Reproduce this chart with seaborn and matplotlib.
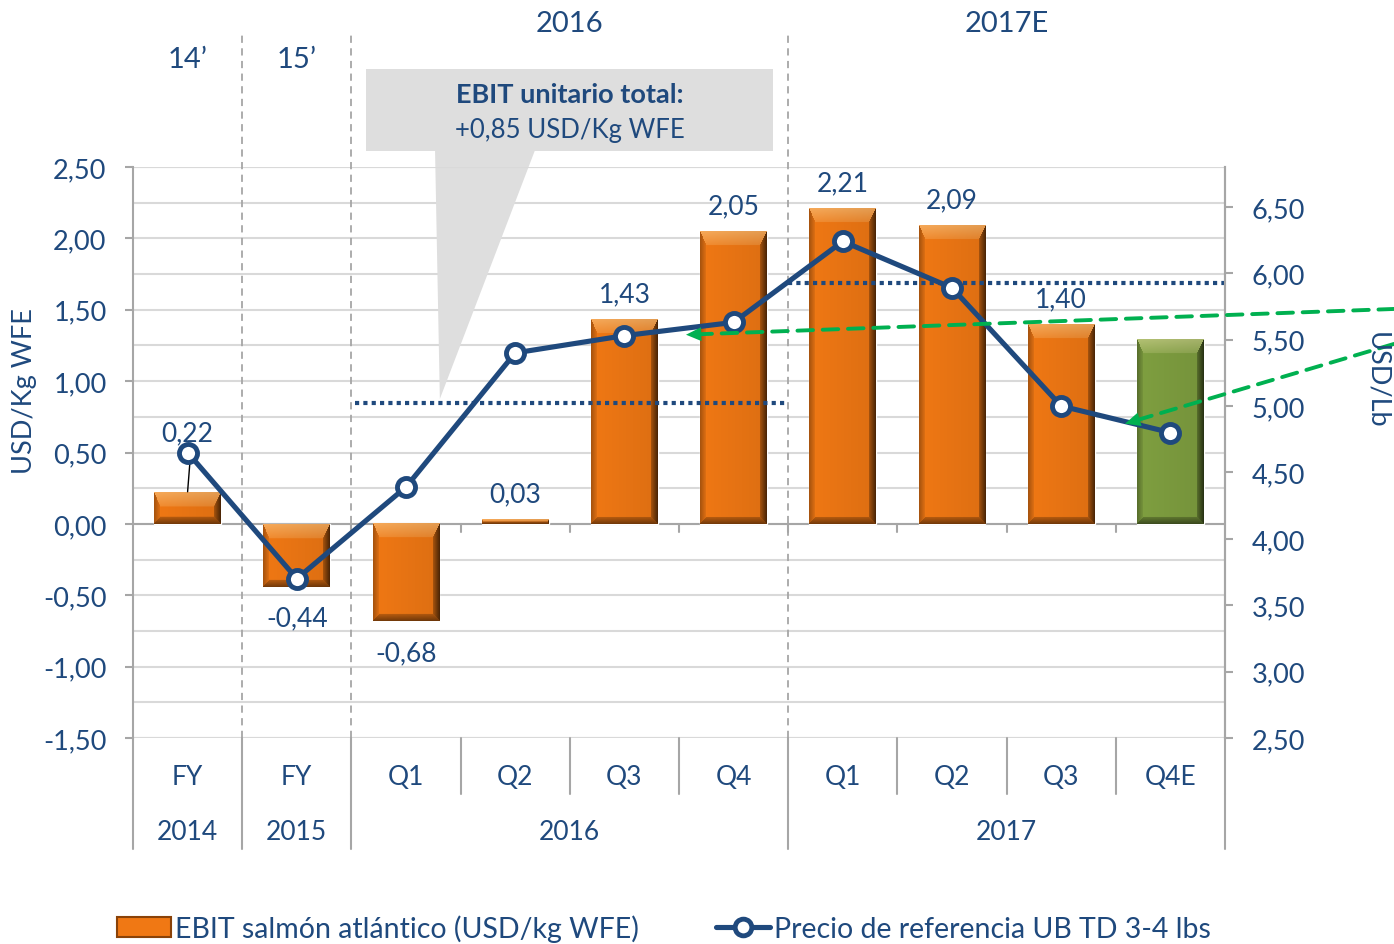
import numpy as np
import pandas as pd
import matplotlib
matplotlib.use('Agg')
import matplotlib.pyplot as plt
import seaborn as sns
from matplotlib.ticker import FuncFormatter, MultipleLocator
from matplotlib.patches import Polygon, Rectangle, Patch
from matplotlib.lines import Line2D
from matplotlib.colors import to_rgb

# data
periods = ['FY', 'FY', 'Q1', 'Q2', 'Q3', 'Q4', 'Q1', 'Q2', 'Q3', 'Q4E']
years = ['2014', '2015', '2016', '2016', '2016', '2016', '2017', '2017', '2017', '2017']
ebit = [0.22, -0.44, -0.68, 0.03, 1.43, 2.05, 2.21, 2.09, 1.40, 1.29]
kind = ['real'] * 9 + ['est']
price = [4.65, 3.70, 4.39, 5.40, 5.53, 5.63, 6.24, 5.89, 5.00, 4.80]
avg_2016 = 0.85
avg_2017 = 1.69
year_groups = [('2014', 0, 0), ('2015', 1, 1), ('2016', 2, 5), ('2017', 6, 9)]
headers = [('14’', 0, 0), ('15’', 1, 1), ('2016', 2, 5), ('2017E', 6, 9)]
callout = ['EBIT unitario total:', '+0,85 USD/Kg WFE']

NAVY = '#1F497D'
ORANGE = '#F07814'
GREEN = '#7F9F40'
GRID = '#D9D9D9'
AXGRAY = '#A6A6A6'

sns.set_style('white')
plt.rcParams['font.family'] = ['Lato', 'DejaVu Sans']

fig = plt.figure(figsize=(13.94, 9.45), dpi=100)
ax = fig.add_axes([133 / 1394, 1 - 739 / 945, (1225 - 133) / 1394, (739 - 168) / 945])

df = pd.DataFrame({'cat': [f'{p} {y}' for p, y in zip(periods, years)], 'ebit': ebit, 'kind': kind})
sns.barplot(data=df, x='cat', y='ebit', hue='kind', palette={'real': ORANGE, 'est': GREEN},
            width=0.61, dodge=False, legend=False, saturation=1, ax=ax, zorder=3)


def bevel(color, H, W):
    # beveled look like the office chart: light top, dark right/bottom
    base = np.array(to_rgb(color))
    widths = np.array([14, 7, 6, 7], dtype=float)
    widths = np.minimum(widths, max(H / 2.2, 1))
    i = np.arange(H)[:, None] * np.ones((1, W))
    j = np.ones((H, 1)) * np.arange(W)[None, :]
    d = np.stack([i, H - 1 - i, j, W - 1 - j]) / widths[:, None, None]
    side = d.argmin(0)
    t = np.clip(d.min(0), 0, 1)[..., None]
    img = np.tile(base, (H, W, 1))
    white = np.array([1.0, 0.95, 0.75])
    top = base * (1 - (0.4 * (1 - t) + 0.15 * t)) + white * (0.4 * (1 - t) + 0.15 * t)
    bottom = base * (0.5 * (1 - t) + 0.8 * t)
    left = base * (0.7 * (1 - t) + 0.95 * t)
    right = base * (0.35 * (1 - t) + 0.78 * t)
    near = d.min(0) < 1
    for s, arr in enumerate([top, bottom, left, right]):
        m = near & (side == s)
        img[m] = arr[m]
    shade = 1 - 0.08 * (np.arange(W) / W)
    img = img * shade[None, :, None]
    return np.clip(img, 0, 1)


px_per_unit = 571 / 4.0
for p, v in zip(ax.patches, ebit):
    x0, w = p.get_x(), p.get_width()
    H = max(int(abs(v) * px_per_unit), 3)
    img = bevel(p.get_facecolor(), H, 67)
    ax.imshow(img, extent=(x0, x0 + w, min(0, v), max(0, v)), aspect='auto', zorder=3.5, interpolation='bilinear')

ax.set_xlim(-0.5, 9.5)
ax.set_ylim(-1.5, 2.5)
ax.yaxis.set_major_locator(MultipleLocator(0.5))
ax.yaxis.set_minor_locator(MultipleLocator(0.25))
ax.grid(axis='y', which='both', color=GRID, lw=1.5, zorder=0)
ax.set_axisbelow(True)
fmt = FuncFormatter(lambda v, _: f'{v:.2f}'.replace('.', ','))
ax.yaxis.set_major_formatter(fmt)
ax.tick_params(axis='y', which='major', labelsize=19.5, labelcolor=NAVY, length=6, color=AXGRAY, width=1.5, pad=13, left=True)
ax.tick_params(axis='y', which='minor', length=0)
ax.set_xticks([])
ax.set_xlabel('')
ax.set_ylabel('')
for s in ['top', 'bottom']:
    ax.spines[s].set_visible(False)
for s in ['left', 'right']:
    ax.spines[s].set_color(AXGRAY)
    ax.spines[s].set_linewidth(1.5)
ax.axhline(0, color=AXGRAY, lw=1.5, zorder=2)
ax.axhline(-1.5, color=GRID, lw=1.5, zorder=2)
ax.axhline(2.5, color=GRID, lw=1.5, zorder=2)

# ticks on the zero line at category boundaries
for b in np.arange(0.5, 9, 1.0):
    ax.plot([b, b], [0, -0.06], color=AXGRAY, lw=1.5, zorder=2)

# value labels
for i, v in enumerate(ebit):
    if kind[i] == 'est':
        continue
    txt = f'{v:.2f}'.replace('.', ',')
    if i == 0:
        ax.text(i, v + 0.42, txt, ha='center', va='center', fontsize=19, color=NAVY, zorder=6)
        ax.plot([0.02, 0.0], [0.42, v + 0.005], color='black', lw=1, zorder=6)
    elif v >= 0:
        ax.text(i, v + 0.18, txt, ha='center', va='center', fontsize=19, color=NAVY, zorder=6)
    else:
        ax.text(i, v - 0.22, txt, ha='center', va='center', fontsize=19, color=NAVY, zorder=6)

# average dotted lines
ax.plot([1.53, 5.5], [avg_2016, avg_2016], color=NAVY, lw=3, ls=(0, (1, 1)), zorder=4)
ax.plot([5.5, 9.5], [avg_2017, avg_2017], color=NAVY, lw=3, ls=(0, (1, 1)), zorder=4)

# vertical dashed separators through the plot
tr = ax.get_xaxis_transform()
for b in [0.5, 1.5, 5.5]:
    ax.plot([b, b], [0, 1.233], transform=tr, color=AXGRAY, lw=1.3, ls=(0, (4, 3)), clip_on=False, zorder=2)

# category axis below
for b in np.arange(-0.5, 10, 1.0):
    ax.plot([b, b], [0, -0.098], transform=tr, color=AXGRAY, lw=1.5, clip_on=False)
for b in [-0.5, 0.5, 1.5, 5.5, 9.5]:
    ax.plot([b, b], [-0.098, -0.194], transform=tr, color=AXGRAY, lw=1.5, clip_on=False)
for i, p in enumerate(periods):
    ax.text(i, -0.0666, p, transform=tr, ha='center', va='center', fontsize=19, color=NAVY)
for name, a, b in year_groups:
    ax.text((a + b) / 2, -0.163, name, transform=tr, ha='center', va='center', fontsize=19, color=NAVY)
for name, a, b in headers:
    yy = 1.19 if a == b else 1.252
    ax.text((a + b) / 2, yy, name, transform=tr, ha='center', va='center', fontsize=21, color=NAVY)

# callout box
box = Rectangle((1.63, 2.61), 5.36 - 1.63, 3.19 - 2.61, facecolor='#DEDEDE', edgecolor='none', clip_on=False, zorder=5)
ax.add_patch(box)
tri = Polygon([(2.266, 2.615), (3.18, 2.615), (2.31, 0.875)], closed=True, facecolor='#DEDEDE', edgecolor='none', clip_on=False, zorder=1)
ax.add_patch(tri)
ax.text(3.497, 3.01, callout[0], ha='center', va='center', fontsize=19.5, fontweight='bold', color=NAVY, zorder=6)
ax.text(3.497, 2.766, callout[1], ha='center', va='center', fontsize=18.5, color=NAVY, zorder=6)

# price line on the secondary axis
ax2 = ax.twinx()
sns.lineplot(x=np.arange(len(price)), y=price, ax=ax2, color=NAVY, lw=3.7, marker='o', markersize=13,
             markerfacecolor='white', markeredgecolor=NAVY, markeredgewidth=3.5, zorder=5)
ax2.set_ylim(2.5, 6.80)
ax2.set_xlim(-0.5, 9.5)
ax2.set_yticks(np.arange(2.5, 6.51, 0.5))
ax2.yaxis.set_major_formatter(fmt)
ax2.tick_params(axis='y', labelsize=19.5, labelcolor=NAVY, length=6, color=AXGRAY, width=1.5, pad=13, right=True)
ax2.grid(False)
for s in ['top', 'bottom', 'left']:
    ax2.spines[s].set_visible(False)
ax2.spines['right'].set_color(AXGRAY)
ax2.spines['right'].set_linewidth(1.5)
ax2.set_ylabel('')

# green dashed arrows from the right edge
for tip, start in [((4.564, 5.537), (1.0, 0.672)), ((8.584, 4.867), (1.0, 0.635))]:
    ax2.annotate('', xy=tip, xycoords='data', xytext=start, textcoords='figure fraction',
                 arrowprops=dict(arrowstyle='-', color='#00B050', lw=2.8, ls=(0, (4, 2.5)), shrinkA=0, shrinkB=10),
                 annotation_clip=False, zorder=7)
    ax2.annotate('', xy=tip, xycoords='data', xytext=(22, 0.8 if tip[0] < 6 else 6.5), textcoords='offset points',
                 arrowprops=dict(arrowstyle='-|>,head_length=1.1,head_width=0.5', color='#00B050', lw=0,
                                 shrinkA=0, shrinkB=0),
                 annotation_clip=False, zorder=7)

# axis titles
fig.text(25 / 1394, 1 - 391 / 945, 'USD/Kg WFE', rotation=90, ha='center', va='center', fontsize=19.5, color=NAVY)
fig.text(1377 / 1394, 1 - 380 / 945, 'USD/Lb', rotation=-90, ha='center', va='center', fontsize=19.5, color=NAVY)

# legend
handles = [Patch(facecolor=ORANGE, edgecolor='#8A4208', lw=1.5),
           Line2D([], [], color=NAVY, lw=3.7, marker='o', markersize=12, markerfacecolor='white',
                  markeredgecolor=NAVY, markeredgewidth=3.5)]
fig.legend(handles, ['EBIT salmón atlántico (USD/kg WFE)', 'Precio de referencia UB TD 3-4 lbs'],
           loc='center', bbox_to_anchor=(664 / 1394, 16 / 945), ncol=2, frameon=False, fontsize=20.5,
           labelcolor=NAVY, columnspacing=2.7, handlelength=1.9, handletextpad=0.15)

fig.savefig('out.png', dpi=100)
